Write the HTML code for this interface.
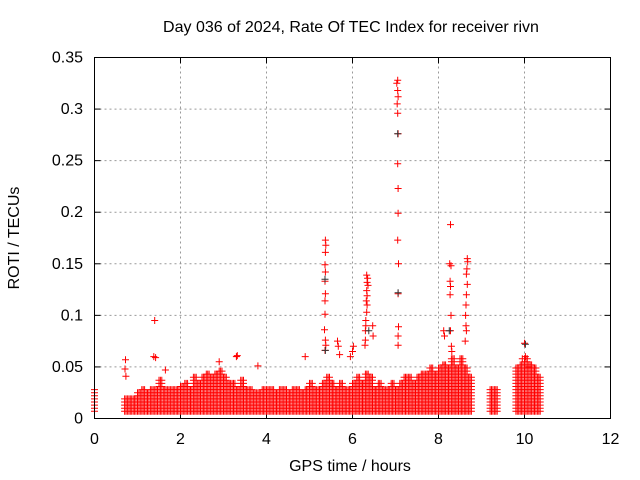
<!DOCTYPE html>
<html><head><meta charset="utf-8"><style>
body{margin:0;background:#fff;}
svg{display:block;font-family:"Liberation Sans",sans-serif;}
</style></head><body>
<svg id="chart" width="640" height="480" viewBox="0 0 640 480">
<rect width="640" height="480" fill="#fff"/>
<text x="351" y="32" font-size="16" text-anchor="middle">Day 036 of 2024, Rate Of TEC Index for receiver rivn</text>
<text x="350" y="471" font-size="16" text-anchor="middle">GPS time / hours</text>
<text x="19" y="238" font-size="16" text-anchor="middle" transform="rotate(-90 19 238)">ROTI / TECUs</text>
<g id="grid"></g>
<g id="ticks"></g>
<path id="marks" fill="none" stroke="#ff0000" stroke-width="1"></path>
<path id="dmarks" fill="none" stroke="#333" stroke-width="1"></path>
<rect x="94.5" y="57.5" width="516" height="361" fill="none" stroke="#000" stroke-width="1"/>
</svg>
<script>
const xTicks=[0,2,4,6,8,10,12];
const yTicks=[0,0.05,0.1,0.15,0.2,0.25,0.3,0.35];
const yTickLabels=["0","0.05","0.1","0.15","0.2","0.25","0.3","0.35"];
const bandStart=0.0, bandStep=0.1;
const bandHi=[0.03,0,0,0,0,0,0,0.02,0.02,0.02,0.025,0.028,0.025,0.03,0.028,0.037,0.03,0.028,0.03,0.03,
0.032,0.035,0.03,0.04,0.035,0.04,0.045,0.04,0.045,0.048,0.04,0.035,0.035,0.03,0.038,0.03,0.028,0.025,0.025,0.028,
0.03,0.03,0.025,0.028,0.03,0.025,0.028,0.03,0.025,0.03,0.035,0.03,0.03,0.035,0.04,0.035,0.03,0.035,0.03,0.03,
0.035,0.04,0.035,0.045,0.04,0.03,0.035,0.03,0.03,0.035,0.03,0.035,0.04,0.04,0.035,0.04,0.045,0.045,0.05,0.045,
0.05,0.055,0.05,0.06,0.05,0.06,0.05,0.04,0,0,0,0,0.03,0.03,0,0,0,0,0.05,0.055,0.06,0.055,0.05,0.04];
const outT=[7.05,7.03,7.05,7.06,7.04,7.05,7.06,7.05,7.06,7.06,7.05,7.07,7.06,7.07,7.06,7.06,
5.37,5.38,5.37,5.36,5.37,5.36,5.37,5.36,5.36,5.35,5.37,5.38,5.36,
6.33,6.35,6.34,6.36,6.33,6.34,6.32,6.34,6.33,6.31,6.31,6.3,6.3,6.29,6.47,6.48,
8.28,8.26,8.29,8.27,8.28,8.27,8.29,8.28,8.3,8.31,8.12,8.14,
8.67,8.68,8.66,8.65,8.67,8.65,8.64,8.63,8.64,8.65,8.62,
5.65,5.67,5.7,1.4,1.38,1.42,0.72,0.71,0.73,1.65,3.3,3.32,2.9,3.8,4.9,10.0,10.02,9.95,10.1,6.02,6.0,5.95];
const outV=[0.328,0.325,0.318,0.312,0.305,0.296,0.276,0.247,0.223,0.199,0.173,0.150,0.121,0.089,0.080,0.071,
0.173,0.168,0.161,0.149,0.142,0.133,0.121,0.114,0.101,0.086,0.076,0.071,0.066,
0.139,0.136,0.132,0.129,0.124,0.119,0.114,0.11,0.103,0.095,0.09,0.085,0.076,0.071,0.09,0.08,
0.188,0.15,0.148,0.133,0.128,0.12,0.1,0.085,0.07,0.065,0.085,0.08,
0.155,0.152,0.145,0.14,0.13,0.12,0.11,0.1,0.09,0.085,0.075,
0.075,0.07,0.062,0.095,0.06,0.059,0.057,0.048,0.041,0.047,0.06,0.061,0.055,0.051,0.06,0.073,0.06,0.058,0.05,0.07,0.065,0.06];
const darkT=[7.05,7.06,5.36,5.37,6.38,8.25,10.02];
const darkV=[0.276,0.122,0.135,0.066,0.085,0.085,0.072];

const X0=94.5,X1=610.5,Y0=418.5,Y1=57.5;
const sx=t=>X0+(t/12)*(X1-X0);
const sy=v=>Y0-(v/0.35)*(Y0-Y1);
const NS="http://www.w3.org/2000/svg";
const grid=document.getElementById('grid'),ticks=document.getElementById('ticks');
function line(g,x1,y1,x2,y2,st,dash){const l=document.createElementNS(NS,'line');
l.setAttribute('x1',x1);l.setAttribute('y1',y1);l.setAttribute('x2',x2);l.setAttribute('y2',y2);
l.setAttribute('stroke',st);if(dash)l.setAttribute('stroke-dasharray',dash);g.appendChild(l);return l;}
xTicks.forEach(t=>{const x=sx(t);
 if(t>0&&t<12){const gl=line(grid,x,Y0,x,Y1,'#999','2,3');
 
 }
 line(ticks,x,Y0,x,Y0-6,'#000');line(ticks,x,Y1,x,Y1+6,'#000');
 const tx=document.createElementNS(NS,'text');tx.setAttribute('x',x);tx.setAttribute('y',444);
 tx.setAttribute('font-size','16');tx.setAttribute('text-anchor','middle');tx.textContent=t;
 
 
 ticks.appendChild(tx);});
yTicks.forEach((v,i)=>{const y=sy(v);
 if(i>0&&i<yTicks.length-1){const gl=line(grid,X0,y,X1,y,'#999','2,3');
 
 }
 line(ticks,X0,y,X0+6,y,'#000');line(ticks,X1,y,X1-6,y,'#000');
 const tx=document.createElementNS(NS,'text');tx.setAttribute('x',83);tx.setAttribute('y',y+5);
 tx.setAttribute('font-size','16');tx.setAttribute('text-anchor','end');tx.textContent=yTickLabels[i];
 
 
 ticks.appendChild(tx);});
let d='';
const cross=(t,v)=>{const x=sx(t),y=sy(v);return `M${(x-3.5).toFixed(1)} ${y.toFixed(1)}h7M${x.toFixed(1)} ${(y-3.5).toFixed(1)}v7`;};
bandHi.forEach((hi,i)=>{if(!hi)return;const t=bandStart+i*bandStep;
 const offs=(i===0)?[0]:[0,0.033,0.066];
 offs.forEach(o=>{for(let v=0.007;v<=hi;v+=0.003)d+=cross(t+o,v);});});
outT.forEach((t,i)=>{d+=cross(t,outV[i]);});
document.getElementById('marks').setAttribute('d',d);
let dd='';darkT.forEach((t,i)=>{dd+=cross(t,darkV[i]);});
document.getElementById('dmarks').setAttribute('d',dd);
</script>
</body></html>
